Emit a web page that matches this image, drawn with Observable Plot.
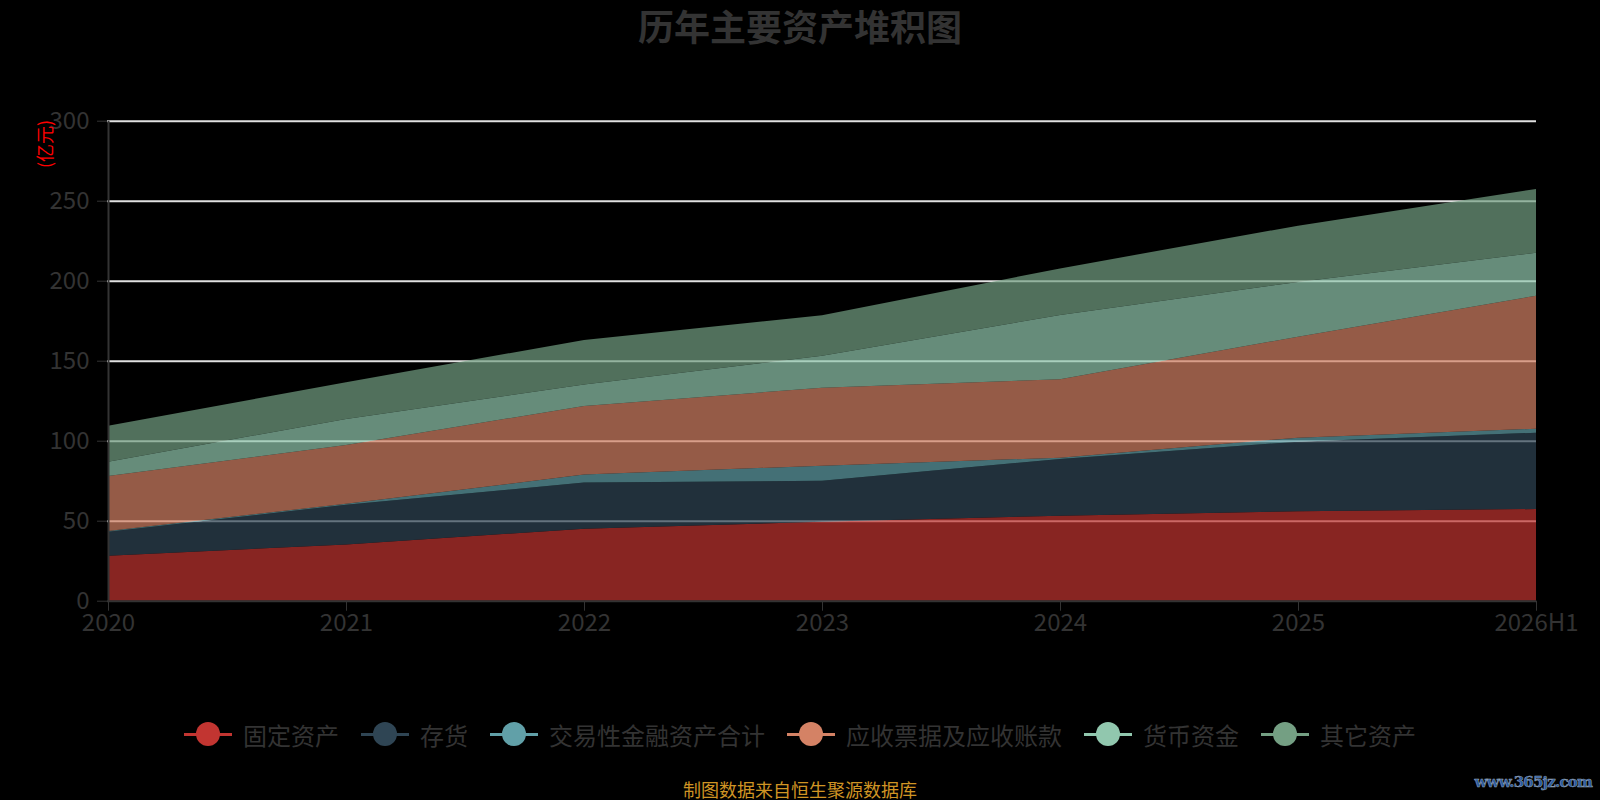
<!DOCTYPE html>
<html>
<head>
<meta charset="utf-8">
<script src="https://cdn.jsdelivr.net/npm/d3@7"></script>
<script src="https://cdn.jsdelivr.net/npm/@observablehq/plot@0.6"></script>
<style>
  html, body { margin: 0; padding: 0; background: #000; }
  body { width: 1600px; height: 800px; position: relative; overflow: hidden;
         font-family: "Noto Sans CJK SC", "Noto Sans", sans-serif; }
  #title { height: 50px; line-height: 50px; text-align: center; font-size: 36px;
           font-weight: bold; color: #333; }
  #unit { position: absolute; left: 44px; top: 144px; transform: translate(-50%, -50%) rotate(-90deg);
          color: #ff0000; font-size: 18px; white-space: nowrap; }
  #legend { position: absolute; left: 0; width: 1600px; top: 719px; height: 30px;
            display: flex; justify-content: center; align-items: center; gap: 22px; }
  .item { display: flex; align-items: center; gap: 11px; font-size: 24px; color: #333; }
  .icon { position: relative; width: 48px; height: 26px; }
  .icon .ln { position: absolute; left: 0; right: 0; top: 11.5px; height: 3px; }
  .icon .dot { position: absolute; left: 12px; top: 1px; width: 24px; height: 24px; border-radius: 50%; }
  #caption { position: absolute; left: 0; width: 1600px; top: 777px; text-align: center;
             font-size: 18px; color: #cf9424; line-height: 24px; }
  #mark { position: absolute; right: 8px; top: 773px; font-size: 15px; font-weight: bold;
          font-family: "DejaVu Serif", serif; color: #2a5aa0;
          -webkit-text-stroke: 0.5px #9aa8b8; letter-spacing: -0.8px; }
</style>
</head>
<body>
<div id="title">历年主要资产堆积图</div>
<div id="chart"></div>
<div id="unit">(亿元)</div>
<div id="legend"></div>
<div id="caption">制图数据来自恒生聚源数据库</div>
<div id="mark">www.365jz.com</div>
<script>
const years = ["2020", "2021", "2022", "2023", "2024", "2025", "2026H1"];
const seriesNames = ["固定资产", "存货", "交易性金融资产合计", "应收票据及应收账款", "货币资金", "其它资产"];
const fixedAssets   = [28.1, 35.2, 45.0, 49.4, 53.1, 55.9, 57.3];
const inventory     = [15.0, 24.8, 28.8, 25.6, 35.5, 43.5, 47.7];
const tradingAssets = [0.5, 0.6, 5.0, 9.4, 0.8, 2.5, 2.5];
const receivables   = [34.3, 36.7, 42.9, 48.7, 49.0, 63.1, 83.1];
const cash          = [9.0, 16.3, 13.5, 20.0, 40.2, 34.2, 26.9];
const otherAssets   = [22.5, 22.9, 27.8, 25.3, 29.1, 35.2, 39.8];
const seriesColors  = ["#c23531", "#2f4554", "#61a0a8", "#d48265", "#91c7ae", "#749f83"];
const yTicks = [0, 50, 100, 150, 200, 250, 300];
const gridTicks = [50, 100, 150, 200, 250, 300];

const seriesValues = [fixedAssets, inventory, tradingAssets, receivables, cash, otherAssets];
const rows = [];
seriesNames.forEach((name, i) => {
  years.forEach((yr, j) => rows.push({series: name, year: yr, value: seriesValues[i][j]}));
});

const chart = Plot.plot({
  width: 1600,
  height: 620,
  marginLeft: 107,
  marginRight: 64,
  marginTop: 70.7,
  marginBottom: 69.3,
  style: {background: "#000", fontFamily: "'Noto Sans CJK SC', 'Noto Sans', sans-serif", fontSize: "24px"},
  x: {type: "point", domain: years, padding: 0},
  y: {domain: [0, 300]},
  color: {domain: seriesNames, range: seriesColors},
  marks: [
    Plot.ruleY(gridTicks, {stroke: "#e0e0e0", strokeWidth: 2}),
    Plot.areaY(rows, {x: "year", y: "value", z: "series", fill: "series", fillOpacity: 0.7, order: seriesNames}),
    Plot.ruleY([0], {stroke: "#333", strokeWidth: 2}),
    Plot.ruleX([years[0]], {y1: 0, y2: 300, stroke: "#333", strokeWidth: 2}),
    Plot.axisY({ticks: yTicks, tickSize: 10, tickPadding: 8, fontSize: 24, color: "#333", label: null, tickFormat: d => String(d)}),
    Plot.axisX({tickSize: 10, tickPadding: 3, fontSize: 24, color: "#333", label: null})
  ]
});
document.getElementById("chart").appendChild(chart);

const legend = document.getElementById("legend");
seriesNames.forEach((name, i) => {
  const item = document.createElement("div");
  item.className = "item";
  item.innerHTML = `<div class="icon"><div class="ln" style="background:${seriesColors[i]}"></div><div class="dot" style="background:${seriesColors[i]}"></div></div><span>${name}</span>`;
  legend.appendChild(item);
});
</script>
</body>
</html>
